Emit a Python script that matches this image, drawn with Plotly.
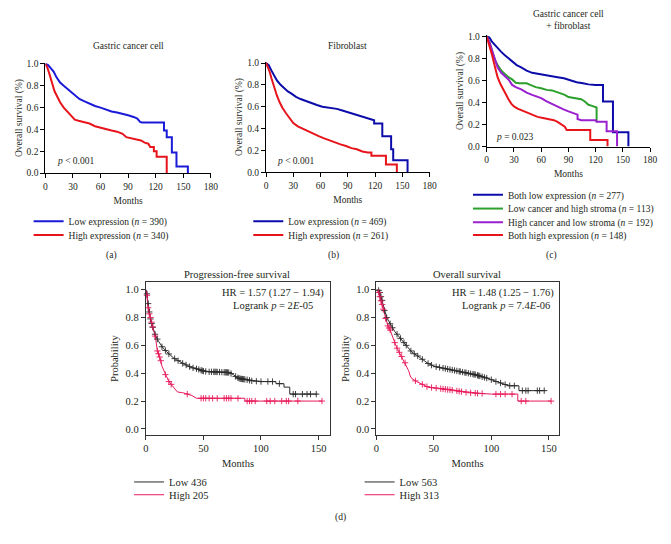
import numpy as np
import plotly.graph_objects as go

# ---------------- data ----------------
# (a) Gastric cancer cell
a_low_t = [0, 3, 6, 9, 12, 16, 20, 24, 28, 32, 37, 42, 48, 54, 60, 66, 72, 78, 84, 90, 96, 100, 103, 105, 129, 129, 132, 132, 137.6, 137.6, 142.6, 142.6, 155, 155]
a_low_s = [1.0, 0.99, 0.96, 0.93, 0.88, 0.83, 0.80, 0.77, 0.74, 0.71, 0.68, 0.66, 0.635, 0.615, 0.60, 0.58, 0.565, 0.555, 0.545, 0.53, 0.515, 0.50, 0.47, 0.465, 0.465, 0.39, 0.39, 0.33, 0.33, 0.19, 0.19, 0.06, 0.06, 0.0]
a_high_t = [0, 2, 4, 6, 8, 10, 13, 16, 20, 24, 28, 32, 36, 42, 48, 54, 60, 66, 72, 78, 84, 88, 94, 100, 104, 108, 112, 114, 118, 118, 121, 121, 132, 132]
a_high_s = [1.0, 0.97, 0.92, 0.86, 0.80, 0.75, 0.70, 0.65, 0.60, 0.56, 0.53, 0.49, 0.48, 0.47, 0.455, 0.43, 0.415, 0.40, 0.39, 0.38, 0.36, 0.33, 0.32, 0.31, 0.30, 0.28, 0.27, 0.24, 0.24, 0.20, 0.20, 0.15, 0.15, 0.0]

# (b) Fibroblast
b_low_t = [0, 3, 6, 9, 12, 16, 20, 24, 28, 33, 38, 44, 50, 56, 62, 70, 78, 84, 90, 96, 102, 108, 114, 119, 119, 128, 128, 137.7, 137.7, 140, 140, 155.8, 155.8]
b_low_s = [1.0, 0.98, 0.93, 0.89, 0.84, 0.80, 0.77, 0.74, 0.72, 0.69, 0.67, 0.65, 0.63, 0.615, 0.60, 0.59, 0.58, 0.565, 0.55, 0.53, 0.52, 0.50, 0.485, 0.475, 0.445, 0.445, 0.33, 0.33, 0.21, 0.21, 0.11, 0.11, 0.0]
b_high_t = [0, 2, 4, 6, 8, 10, 12, 15, 18, 22, 26, 30, 35, 40, 46, 52, 58, 64, 70, 76, 82, 88, 94, 100, 106, 112, 116, 116, 132, 132, 144, 144]
b_high_s = [1.0, 0.96, 0.92, 0.86, 0.80, 0.75, 0.70, 0.64, 0.59, 0.54, 0.50, 0.45, 0.42, 0.40, 0.38, 0.35, 0.33, 0.31, 0.29, 0.27, 0.255, 0.24, 0.22, 0.21, 0.19, 0.18, 0.18, 0.15, 0.15, 0.07, 0.07, 0.0]

# (c) Gastric cancer cell + fibroblast
c_bl_t = [0, 3, 6, 9, 12, 16, 20, 24, 28, 33, 38, 44, 50, 56, 62, 70, 78, 85, 92, 99, 106, 112, 120, 128, 128, 139, 139, 156, 156]
c_bl_s = [1.0, 0.99, 0.95, 0.92, 0.89, 0.86, 0.83, 0.80, 0.77, 0.74, 0.72, 0.69, 0.67, 0.66, 0.655, 0.64, 0.63, 0.62, 0.60, 0.585, 0.575, 0.565, 0.56, 0.56, 0.41, 0.41, 0.13, 0.13, 0.0]
c_lh_t = [0, 3, 6, 9, 12, 16, 20, 24, 28, 32, 36, 44, 48, 54, 60, 66, 72, 80, 86, 90, 96, 104, 108, 112, 116, 120, 121, 121]
c_lh_s = [1.0, 0.95, 0.87, 0.79, 0.74, 0.69, 0.66, 0.63, 0.61, 0.58, 0.575, 0.575, 0.56, 0.54, 0.53, 0.515, 0.51, 0.49, 0.47, 0.45, 0.44, 0.43, 0.41, 0.38, 0.37, 0.355, 0.355, 0.22]
c_hl_t = [0, 3, 6, 9, 12, 16, 20, 24, 28, 32, 38, 44, 50, 56, 60, 66, 72, 78, 84, 90, 96, 100, 100, 104, 120, 121, 132, 132, 143.5, 143.5]
c_hl_s = [1.0, 0.95, 0.87, 0.79, 0.72, 0.67, 0.64, 0.61, 0.56, 0.54, 0.52, 0.49, 0.47, 0.45, 0.44, 0.41, 0.385, 0.36, 0.34, 0.32, 0.305, 0.29, 0.25, 0.24, 0.24, 0.225, 0.225, 0.14, 0.14, 0.0]
c_bh_t = [0, 2, 4, 6, 8, 10, 12, 15, 18, 21, 24, 27, 30, 34, 40, 45, 50, 56, 62, 68, 74, 78, 82, 86, 88, 114, 114, 133, 133]
c_bh_s = [1.0, 0.95, 0.89, 0.83, 0.76, 0.70, 0.63, 0.57, 0.52, 0.47, 0.43, 0.39, 0.365, 0.345, 0.325, 0.31, 0.295, 0.27, 0.26, 0.25, 0.24, 0.225, 0.20, 0.18, 0.15, 0.15, 0.06, 0.06, 0.0]

# (d) Progression-free survival
pfs_low_t = [0, 1, 1.5, 2.5, 3.5, 4.5, 6, 7.5, 9, 11, 13, 15, 18, 21, 24, 27, 31, 36, 40, 45, 50, 55, 60, 72, 76, 79, 82, 87, 92, 100, 113, 113, 120, 120, 125, 125, 149]
pfs_low_s = [1.0, 0.97, 0.93, 0.87, 0.81, 0.77, 0.73, 0.69, 0.66, 0.63, 0.60, 0.58, 0.555, 0.53, 0.51, 0.495, 0.475, 0.455, 0.44, 0.43, 0.415, 0.41, 0.41, 0.405, 0.39, 0.37, 0.36, 0.355, 0.345, 0.34, 0.34, 0.325, 0.325, 0.30, 0.30, 0.25, 0.25]
pfs_high_t = [0, 1, 1.5, 2.5, 4, 5.5, 7, 8.5, 10, 11.5, 13, 14, 15.5, 17, 18.5, 20, 22, 24, 26, 27.5, 32, 36, 40, 44, 86, 86, 153]
pfs_high_s = [1.0, 0.96, 0.90, 0.84, 0.80, 0.75, 0.70, 0.65, 0.56, 0.53, 0.49, 0.45, 0.42, 0.39, 0.36, 0.34, 0.32, 0.30, 0.28, 0.265, 0.26, 0.25, 0.24, 0.22, 0.22, 0.20, 0.20]
pfs_low_cens = [1, 2, 3, 4, 5, 6, 8, 10, 14, 17, 20, 25, 28, 32, 35, 38, 41, 44, 46, 48, 49, 50, 52, 55, 57, 59, 60, 61, 62, 64, 66, 68, 69, 70, 71, 72, 74, 78, 80, 81, 82, 83, 84, 85, 86, 88, 90, 92, 96, 100, 106, 110, 116, 128, 130, 136, 140, 143, 148]
pfs_high_cens = [1, 2, 3, 4, 5, 6, 8, 10, 11, 12, 13, 17, 20, 22, 36, 48, 50, 52, 55, 58, 62, 68, 70, 72, 74, 80, 88, 90, 92, 95, 105, 108, 112, 118, 122, 124, 132, 153]

# (d) Overall survival
os_low_t = [0, 2, 3, 4, 5.5, 7, 9, 11, 13, 16, 19, 22, 25, 28, 31, 35, 40, 45, 50, 56, 62, 68, 74, 80, 86, 92, 98, 104, 110, 115, 124, 124, 147]
os_low_s = [1.0, 0.995, 0.98, 0.95, 0.91, 0.85, 0.80, 0.77, 0.74, 0.70, 0.67, 0.64, 0.61, 0.58, 0.55, 0.53, 0.50, 0.47, 0.45, 0.44, 0.43, 0.42, 0.41, 0.40, 0.39, 0.375, 0.36, 0.34, 0.325, 0.31, 0.31, 0.275, 0.275]
os_high_t = [0, 2, 3, 4, 5.5, 7, 8.5, 10, 12, 14, 16, 18, 20, 22, 24, 26, 28, 29.5, 31, 35, 40, 45, 55, 65, 72, 80, 90, 100, 123, 123, 152]
os_high_s = [1.0, 0.98, 0.95, 0.92, 0.88, 0.82, 0.78, 0.74, 0.71, 0.66, 0.62, 0.58, 0.55, 0.52, 0.49, 0.46, 0.42, 0.38, 0.36, 0.34, 0.32, 0.30, 0.29, 0.28, 0.27, 0.26, 0.255, 0.25, 0.25, 0.20, 0.20]
os_low_cens = [2, 3, 4, 5, 7, 9, 12, 14, 18, 21, 24, 26, 30, 33, 36, 40, 45, 48, 52, 55, 58, 60, 62, 64, 66, 68, 70, 72, 73, 75, 77, 78, 80, 82, 84, 85, 86, 88, 89, 90, 92, 94, 96, 100, 104, 108, 112, 116, 120, 127, 130, 132, 140, 142, 146]
os_high_cens = [2, 3, 4, 5, 6, 8, 10, 11, 12, 16, 18, 20, 22, 25, 34, 40, 44, 48, 52, 56, 58, 60, 62, 64, 66, 70, 72, 74, 78, 82, 86, 88, 92, 104, 108, 112, 118, 126, 130, 152]

# labels
a_names = ["Low expression (<i>n</i> = 390)", "High expression (<i>n</i> = 340)"]
b_names = ["Low expression (<i>n</i> = 469)", "High expression (<i>n</i> = 261)"]
c_names = ["Both low expression (<i>n</i> = 277)", "Low cancer and high stroma (<i>n</i> = 113)",
           "High cancer and low stroma (<i>n</i> = 192)", "Both high expression (<i>n</i> = 148)"]
d_pfs_names = ["Low 436", "High 205"]
d_os_names = ["Low 563", "High 313"]
abc_xticks = [0, 30, 60, 90, 120, 150, 180]
abc_yticks = [0.0, 0.2, 0.4, 0.6, 0.8, 1.0]
d_xticks = [0, 50, 100, 150]

# ---------------- layout helpers ----------------
W, H = 671, 544
FONT = "Liberation Serif"
TXT = "#231f20"
FS = 9.5     # font size, panels a-c
FSD = 10.5   # font size, panel d


def fx(p):
    return p / W


def fy(p):
    return 1 - p / H


fig = go.Figure()
legend_count = [0]
layout_legends = {}
LEG_TEXT_OFF = 42  # px from legend x to start of legend text


def new_legend(text_x, ypix, size):
    legend_count[0] += 1
    key = "legend" if legend_count[0] == 1 else f"legend{legend_count[0]}"
    layout_legends[key] = dict(x=fx(text_x - LEG_TEXT_OFF), y=fy(ypix), xanchor="left", yanchor="middle",
                               bgcolor="rgba(0,0,0,0)", borderwidth=0, itemwidth=30,
                               font=dict(family=FONT, size=size, color=TXT))
    return key


def add_curve(t, s, color, width, name, ax, leg_xy, size):
    key = new_legend(leg_xy[0], leg_xy[1], size)
    fig.add_trace(go.Scatter(x=t, y=s, mode="lines", name=name,
                             line=dict(color=color, width=width),
                             xaxis="x" + ax, yaxis="y" + ax, legend=key, hoverinfo="skip"))


def add_cens(times, t, s, color, ax):
    ys = np.interp(times, t, s)
    fig.add_trace(go.Scatter(x=times, y=ys, mode="markers", showlegend=False,
                             marker=dict(symbol="cross-thin", size=4.5, line=dict(color=color, width=0.9)),
                             xaxis="x" + ax, yaxis="y" + ax, hoverinfo="skip", cliponaxis=False))


BLUE_A = "#1a1ad8"
BLUE_B = "#0c0caa"
RED = "#e8141c"
GREEN = "#2ca02c"
PURPLE = "#9a1fd0"
BLACK_D = "#2a2a2a"
RED_D = "#e8195a"

# (a)
add_curve(a_low_t, a_low_s, BLUE_A, 2, a_names[0], "1", (68, 221), FS)
add_curve(a_high_t, a_high_s, RED, 2, a_names[1], "1", (68, 235), FS)
# (b)
add_curve(b_low_t, b_low_s, BLUE_B, 2, b_names[0], "2", (291, 221), FS)
add_curve(b_high_t, b_high_s, RED, 2, b_names[1], "2", (291, 235), FS)
# (c)
add_curve(c_bl_t, c_bl_s, BLUE_B, 2, c_names[0], "3", (514, 194), FS)
add_curve(c_lh_t, c_lh_s, GREEN, 2, c_names[1], "3", (514, 208), FS)
add_curve(c_hl_t, c_hl_s, PURPLE, 2, c_names[2], "3", (514, 222), FS)
add_curve(c_bh_t, c_bh_s, RED, 2, c_names[3], "3", (514, 235), FS)
# (d) PFS
add_curve(pfs_low_t, pfs_low_s, BLACK_D, 1, d_pfs_names[0], "4", (170, 486), FSD)
add_curve(pfs_high_t, pfs_high_s, RED_D, 1, d_pfs_names[1], "4", (170, 499), FSD)
add_cens(pfs_low_cens, pfs_low_t, pfs_low_s, BLACK_D, "4")
add_cens(pfs_high_cens, pfs_high_t, pfs_high_s, RED_D, "4")
# (d) OS
add_curve(os_low_t, os_low_s, BLACK_D, 1, d_os_names[0], "5", (404, 486), FSD)
add_curve(os_high_t, os_high_s, RED_D, 1, d_os_names[1], "5", (404, 499), FSD)
add_cens(os_low_cens, os_low_t, os_low_s, BLACK_D, "5")
add_cens(os_high_cens, os_high_t, os_high_s, RED_D, "5")


def abc_axes(x0, x1, y_one, y_zero):
    unit = y_zero - y_one
    top = y_one - 0.01 * unit
    xa = dict(domain=[fx(x0), fx(x1)], range=[0, 180], tickvals=abc_xticks,
              ticks="outside", ticklen=4, tickcolor="black", showline=True, linecolor="black",
              linewidth=1, showgrid=False, zeroline=False,
              tickfont=dict(family=FONT, size=FS, color=TXT),
              title=dict(text="Months", font=dict(family=FONT, size=FS, color=TXT), standoff=6))
    ya = dict(domain=[fy(y_zero), fy(top)], range=[0, 1.01], tickvals=abc_yticks, tickformat=".1f",
              ticks="outside", ticklen=4, tickcolor="black", showline=True, linecolor="black",
              linewidth=1, showgrid=False, zeroline=False,
              tickfont=dict(family=FONT, size=FS, color=TXT),
              title=dict(text="Overall survival (%)", font=dict(family=FONT, size=FS, color=TXT), standoff=2))
    return xa, ya


def d_axes(x0, x1, y0, y1, xmax):
    xa = dict(domain=[fx(x0), fx(x1)], range=[0, xmax], tickvals=d_xticks,
              ticks="outside", ticklen=4, tickcolor="#333", showline=True, linecolor="#333",
              linewidth=1, mirror=True, showgrid=False, zeroline=False,
              tickfont=dict(family=FONT, size=FSD, color=TXT),
              title=dict(text="Months", font=dict(family=FONT, size=FSD, color=TXT), standoff=6))
    ya = dict(domain=[fy(y1), fy(y0)], range=[-0.042, 1.053], tickvals=abc_yticks, tickformat=".1f",
              ticks="outside", ticklen=4, tickcolor="#333", showline=True, linecolor="#333",
              linewidth=1, mirror=True, showgrid=False, zeroline=False,
              tickfont=dict(family=FONT, size=FSD, color=TXT),
              title=dict(text="Probability", font=dict(family=FONT, size=FSD, color=TXT), standoff=4))
    return xa, ya


axes = {}
axes["xaxis"], axes["yaxis"] = abc_axes(43, 211, 61, 172)
axes["xaxis2"], axes["yaxis2"] = abc_axes(267, 433, 60, 171)
axes["xaxis3"], axes["yaxis3"] = abc_axes(491, 657, 33, 145)
axes["xaxis4"], axes["yaxis4"] = d_axes(145, 332, 283, 438, 160)
axes["xaxis5"], axes["yaxis5"] = d_axes(379, 564, 283, 438, 158.5)
for i in range(1, 6):
    sx = "" if i == 1 else str(i)
    axes["xaxis" + sx]["anchor"] = "y" + sx
    axes["yaxis" + sx]["anchor"] = "x" + sx


def ann(text, xp, yp, size, xanchor="center"):
    return dict(text=text, x=fx(xp), y=fy(yp), xref="paper", yref="paper", showarrow=False,
                xanchor=xanchor, yanchor="middle", font=dict(family=FONT, size=size, color=TXT))


def ann_ax(text, x, y, ax, size):
    return dict(text=text, x=x, y=y, xref="x" + ax, yref="y" + ax, showarrow=False,
                xanchor="left", yanchor="middle", font=dict(family=FONT, size=size, color=TXT))


annotations = [
    ann("Gastric cancer cell", 127, 43, FS),
    ann("Fibroblast", 350, 43, FS),
    ann("Gastric cancer cell<br>+ fibroblast", 574, 16, FS),
    ann_ax("<i>p</i> < 0.001", 10, 0.11, "1", FS),
    ann_ax("<i>p</i> < 0.001", 10, 0.10, "2", FS),
    ann_ax("<i>p</i> = 0.023", 8, 0.09, "3", FS),
    ann("Progression-free survival", 238, 275, FSD),
    ann("Overall survival", 471, 275, FSD),
    ann("HR = 1.57 (1.27 − 1.94)", 328, 294, FSD, "right"),
    ann("Logrank <i>p</i> = 2<i>E</i>-05", 317, 307, FSD, "right"),
    ann("HR = 1.48 (1.25 − 1.76)", 561, 294, FSD, "right"),
    ann("Logrank <i>p</i> = 7.4<i>E</i>-06", 557, 307, FSD, "right"),
    ann("(a)", 110, 256, FS),
    ann("(b)", 335, 256, FS),
    ann("(c)", 557, 256, FS),
    ann("(d)", 343, 522, FS),
]

fig.update_layout(
    width=W, height=H, margin=dict(l=0, r=0, t=0, b=0),
    paper_bgcolor="white", plot_bgcolor="white",
    font=dict(family=FONT, size=FS, color=TXT),
    annotations=annotations,
    **axes, **layout_legends,
)

fig.write_html("out.html", config={"displayModeBar": False},
               post_script="document.body.style.margin='0';document.body.style.overflow='hidden';")
